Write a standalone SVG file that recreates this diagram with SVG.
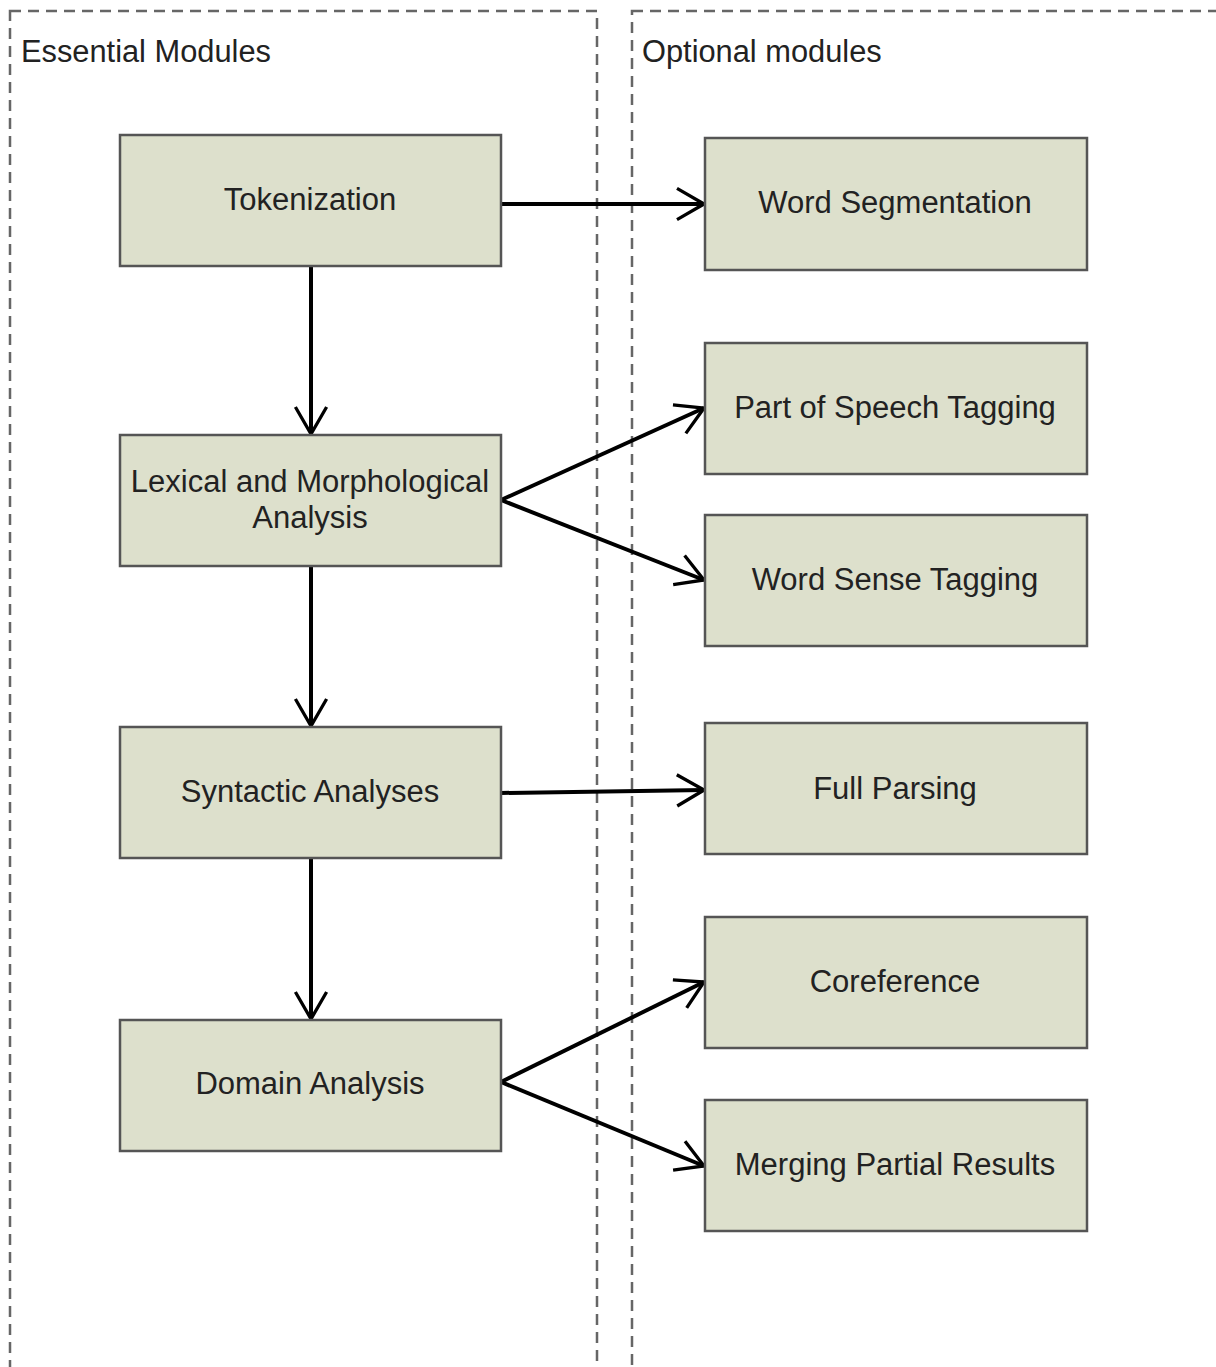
<svg xmlns="http://www.w3.org/2000/svg" width="1216" height="1367" viewBox="0 0 1216 1367">
<style>
.box{fill:#dde0cc;stroke:#555;stroke-width:2.5}
.lbl{font-family:"Liberation Sans",Arial,sans-serif;font-size:31px;fill:#222;text-anchor:middle;dominant-baseline:central}
.title{font-family:"Liberation Sans",Arial,sans-serif;font-size:30.8px;fill:#222}
.frame{fill:none;stroke:#666;stroke-width:2.5;stroke-dasharray:11,7}
.conn{stroke:#000;stroke-width:4;fill:none;marker-end:url(#arr)}
</style>
<defs>
<marker id="arr" viewBox="0 0 12 12" refX="11" refY="6" markerWidth="9" markerHeight="9" orient="auto" markerUnits="strokeWidth">
<path d="M2,0.8 L11,6 L2,11.2" fill="none" stroke="#000" stroke-width="1.1" stroke-linejoin="miter"/>
</marker>
</defs>
<g id="frames">
<rect class="frame" x="10" y="11" width="587" height="1380"/>
<rect class="frame" x="632" y="11" width="620" height="1380"/>
<text class="title" x="21" y="62">Essential Modules</text>
<text class="title" x="642" y="62">Optional modules</text>
</g>
<g id="connectors">
<line class="conn" x1="501" y1="204" x2="704" y2="204"/>
<line class="conn" x1="311" y1="266" x2="311" y2="434"/>
<line class="conn" x1="501" y1="500" x2="704" y2="408"/>
<line class="conn" x1="501" y1="500" x2="704" y2="580"/>
<line class="conn" x1="311" y1="566" x2="311" y2="726"/>
<line class="conn" x1="501" y1="793" x2="704" y2="790"/>
<line class="conn" x1="311" y1="858" x2="311" y2="1019"/>
<line class="conn" x1="501" y1="1082" x2="704" y2="982"/>
<line class="conn" x1="501" y1="1082" x2="704" y2="1166"/>
</g>
<g id="tokenization"><rect class="box" x="120" y="135" width="381" height="131"/><text class="lbl" x="310" y="199">Tokenization</text></g>
<g id="lexical"><rect class="box" x="120" y="435" width="381" height="131"/><text class="lbl" x="310" y="481">Lexical and Morphological</text><text class="lbl" x="310" y="517">Analysis</text></g>
<g id="syntactic"><rect class="box" x="120" y="727" width="381" height="131"/><text class="lbl" x="310" y="791">Syntactic Analyses</text></g>
<g id="domain"><rect class="box" x="120" y="1020" width="381" height="131"/><text class="lbl" x="310" y="1083">Domain Analysis</text></g>
<g id="wordseg"><rect class="box" x="705" y="138" width="382" height="132"/><text class="lbl" x="895" y="202">Word Segmentation</text></g>
<g id="pos"><rect class="box" x="705" y="343" width="382" height="131"/><text class="lbl" x="895" y="407">Part of Speech Tagging</text></g>
<g id="wst"><rect class="box" x="705" y="515" width="382" height="131"/><text class="lbl" x="895" y="579">Word Sense Tagging</text></g>
<g id="fullparsing"><rect class="box" x="705" y="723" width="382" height="131"/><text class="lbl" x="895" y="788">Full Parsing</text></g>
<g id="coreference"><rect class="box" x="705" y="917" width="382" height="131"/><text class="lbl" x="895" y="981">Coreference</text></g>
<g id="merging"><rect class="box" x="705" y="1100" width="382" height="131"/><text class="lbl" x="895" y="1164">Merging Partial Results</text></g>
</svg>
